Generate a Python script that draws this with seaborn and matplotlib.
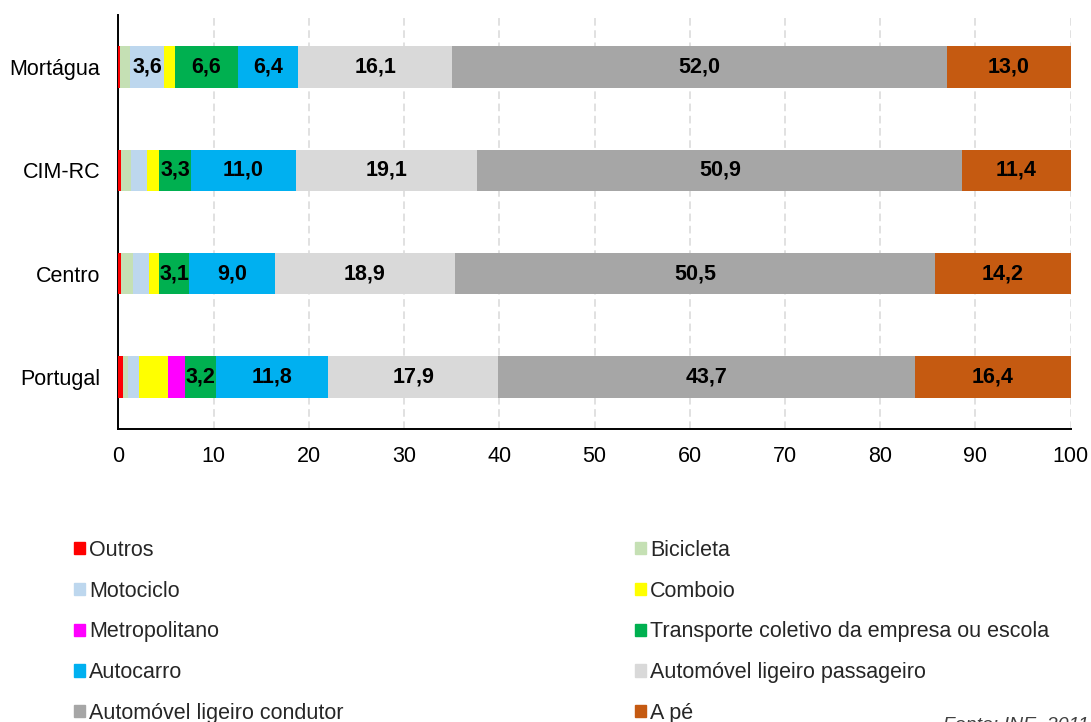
import numpy as np
import pandas as pd
import matplotlib
matplotlib.use("Agg")
import matplotlib.pyplot as plt
import matplotlib.patches as mpatches
import seaborn as sns

regions = ["Mortágua", "CIM-RC", "Centro", "Portugal"]
modes = ["Outros", "Bicicleta", "Motociclo", "Comboio", "Metropolitano",
         "Transporte coletivo da empresa ou escola", "Autocarro",
         "Automóvel ligeiro passageiro", "Automóvel ligeiro condutor", "A pé"]

outros        = [0.2, 0.3, 0.3, 0.5]
bicicleta     = [1.0, 1.0, 1.2, 0.5]
motociclo     = [3.6, 1.7, 1.7, 1.2]
comboio       = [1.1, 1.3, 1.1, 3.0]
metropolitano = [0.0, 0.0, 0.0, 1.8]
transp_col    = [6.6, 3.3, 3.1, 3.2]
autocarro     = [6.4, 11.0, 9.0, 11.8]
auto_pass     = [16.1, 19.1, 18.9, 17.9]
auto_cond     = [52.0, 50.9, 50.5, 43.7]
a_pe          = [13.0, 11.4, 14.2, 16.4]

colors = ["#ff0000", "#c5e0b4", "#bdd7ee", "#ffff00", "#ff00ff",
          "#00b050", "#00b0f0", "#d9d9d9", "#a6a6a6", "#c55a11"]

series = [outros, bicicleta, motociclo, comboio, metropolitano,
          transp_col, autocarro, auto_pass, auto_cond, a_pe]

sns.set_theme(style="white")
plt.rcParams["font.family"] = ["Liberation Sans", "DejaVu Sans"]

FS = 15.5

vals = np.array(series)
cum = np.cumsum(vals, axis=0)

fig = plt.figure(figsize=(10.91, 7.22), dpi=100)
ax = fig.add_axes([0.1086, 0.406, 0.9814 - 0.1086, 0.979 - 0.406])

for i in range(len(modes) - 1, -1, -1):
    df = pd.DataFrame({"region": regions, "value": cum[i]})
    sns.barplot(data=df, x="value", y="region", color=colors[i], width=0.4,
                linewidth=0, saturation=1, ax=ax, zorder=3)

for i in range(len(modes)):
    for j in range(len(regions)):
        v = vals[i, j]
        if v > 3.0:
            ax.text(cum[i, j] - v / 2, j, f"{v:.1f}".replace(".", ","),
                    ha="center", va="center", fontsize=FS, fontweight="bold",
                    color="black", zorder=5)

ax.set_xlim(0, 100)
ax.set_xticks(np.arange(0, 101, 10))
ax.set_xlabel("")
ax.set_ylabel("")
ax.grid(axis="x", color="#d9d9d9", linestyle=(0, (5, 3)), linewidth=1.1, zorder=0)
ax.grid(axis="y", visible=False)
for s in ["top", "right"]:
    ax.spines[s].set_visible(False)
for s in ["left", "bottom"]:
    ax.spines[s].set_color("black")
    ax.spines[s].set_linewidth(1.4)
ax.tick_params(axis="x", length=0, pad=12, labelsize=FS, colors="black")
ax.tick_params(axis="y", length=0, pad=13, labelsize=FS, colors="black")

left_idx = [0, 2, 4, 6, 8]
right_idx = [1, 3, 5, 7, 9]
common = dict(frameon=False, fontsize=FS, handlelength=0.5, handleheight=0.5,
              handletextpad=0.2, labelspacing=0.915, borderaxespad=0, borderpad=0)
h1 = [mpatches.Patch(color=colors[i], label=modes[i]) for i in left_idx]
h2 = [mpatches.Patch(color=colors[i], label=modes[i]) for i in right_idx]
fig.legend(handles=h1, loc="upper left", bbox_to_anchor=(74 / 1091, 1 - 540 / 722), **common)
fig.legend(handles=h2, loc="upper left", bbox_to_anchor=(635 / 1091, 1 - 540 / 722), **common)

fig.text(943 / 1091, 1 - 716 / 722, "Fonte: INE, 2011", fontsize=14, style="italic",
         ha="left", va="top", color="#404040")

fig.savefig("out.png", dpi=100)
